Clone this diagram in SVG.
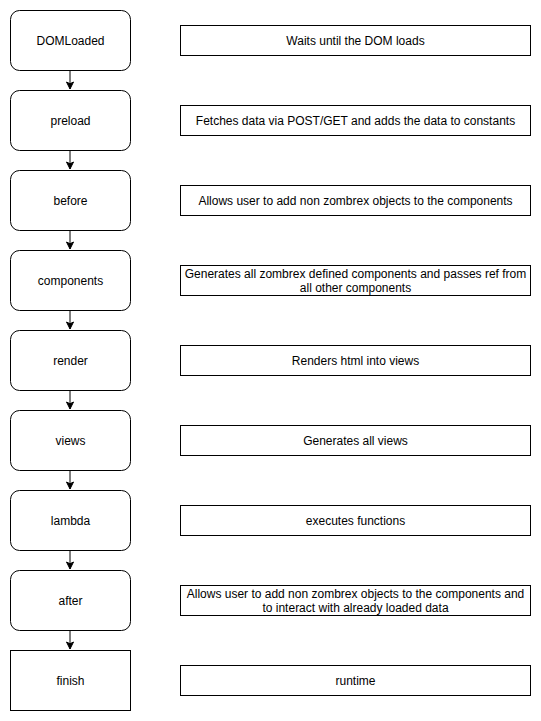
<svg xmlns="http://www.w3.org/2000/svg" width="541" height="721" viewBox="0 0 541 721">
<style>
.n{fill:#fff;stroke:#000;stroke-width:1}
.t{font-family:"Liberation Sans",Arial,sans-serif;font-size:12px;fill:#000;text-anchor:middle}
.c{stroke:#000;stroke-width:1;fill:none}
</style>
<defs>
<marker id="ah" markerWidth="10" markerHeight="10" refX="0" refY="0" viewBox="-8 -4 10 8" markerUnits="userSpaceOnUse" orient="auto" overflow="visible">
<path d="M-7,-3.5 L0,0 L-7,3.5 L-5.25,0 Z" fill="#000" stroke="#000"/>
</marker>
</defs>
<rect width="541" height="721" fill="#fff"/>
<g id="connectors">
<line class="c" x1="70" y1="70" x2="70" y2="89" marker-end="url(#ah)"/>
<line class="c" x1="70" y1="150" x2="70" y2="169" marker-end="url(#ah)"/>
<line class="c" x1="70" y1="230" x2="70" y2="249" marker-end="url(#ah)"/>
<line class="c" x1="70" y1="310" x2="70" y2="329" marker-end="url(#ah)"/>
<line class="c" x1="70" y1="390" x2="70" y2="409" marker-end="url(#ah)"/>
<line class="c" x1="70" y1="470" x2="70" y2="489" marker-end="url(#ah)"/>
<line class="c" x1="70" y1="550" x2="70" y2="569" marker-end="url(#ah)"/>
<line class="c" x1="70" y1="630" x2="70" y2="649" marker-end="url(#ah)"/>
</g>
<g id="n-domloaded"><rect class="n" x="10.5" y="10.5" width="120" height="60" rx="9"/><text class="t" x="70.5" y="44.5">DOMLoaded</text></g>
<g id="n-preload"><rect class="n" x="10.5" y="90.5" width="120" height="60" rx="9"/><text class="t" x="70.5" y="124.5">preload</text></g>
<g id="n-before"><rect class="n" x="10.5" y="170.5" width="120" height="60" rx="9"/><text class="t" x="70.5" y="204.5">before</text></g>
<g id="n-components"><rect class="n" x="10.5" y="250.5" width="120" height="60" rx="9"/><text class="t" x="70.5" y="284.5">components</text></g>
<g id="n-render"><rect class="n" x="10.5" y="330.5" width="120" height="60" rx="9"/><text class="t" x="70.5" y="364.5">render</text></g>
<g id="n-views"><rect class="n" x="10.5" y="410.5" width="120" height="60" rx="9"/><text class="t" x="70.5" y="444.5">views</text></g>
<g id="n-lambda"><rect class="n" x="10.5" y="490.5" width="120" height="60" rx="9"/><text class="t" x="70.5" y="524.5">lambda</text></g>
<g id="n-after"><rect class="n" x="10.5" y="570.5" width="120" height="60" rx="9"/><text class="t" x="70.5" y="604.5">after</text></g>
<g id="n-finish"><rect class="n" x="10.5" y="650.5" width="120" height="60"/><text class="t" x="70.5" y="684.5">finish</text></g>
<g id="d-domloaded"><rect class="n" x="180.5" y="25.5" width="350" height="30"/><text class="t" x="355.5" y="44.5">Waits until the DOM loads</text></g>
<g id="d-preload"><rect class="n" x="180.5" y="105.5" width="350" height="30"/><text class="t" x="355.5" y="124.5">Fetches data via POST/GET and adds the data to constants</text></g>
<g id="d-before"><rect class="n" x="180.5" y="185.5" width="350" height="30"/><text class="t" x="355.5" y="204.5">Allows user to add non zombrex objects to the components</text></g>
<g id="d-components"><rect class="n" x="180.5" y="265.5" width="350" height="30"/><text class="t" x="355.5" y="277.5">Generates all zombrex defined components and passes ref from</text><text class="t" x="355.5" y="291.5">all other components</text></g>
<g id="d-render"><rect class="n" x="180.5" y="345.5" width="350" height="30"/><text class="t" x="355.5" y="364.5">Renders html into views</text></g>
<g id="d-views"><rect class="n" x="180.5" y="425.5" width="350" height="30"/><text class="t" x="355.5" y="444.5">Generates all views</text></g>
<g id="d-lambda"><rect class="n" x="180.5" y="505.5" width="350" height="30"/><text class="t" x="355.5" y="524.5">executes functions</text></g>
<g id="d-after"><rect class="n" x="180.5" y="585.5" width="350" height="30"/><text class="t" x="355.5" y="597.5">Allows user to add non zombrex objects to the components and</text><text class="t" x="355.5" y="611.5">to interact with already loaded data</text></g>
<g id="d-finish"><rect class="n" x="180.5" y="665.5" width="350" height="30"/><text class="t" x="355.5" y="684.5">runtime</text></g>
</svg>
